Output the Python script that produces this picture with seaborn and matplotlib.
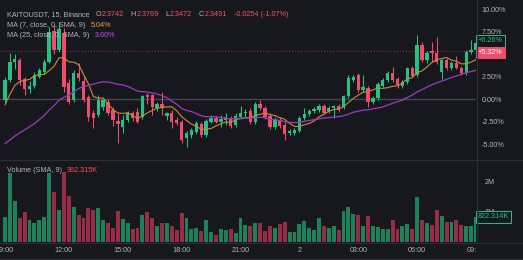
import numpy as np
import pandas as pd
import matplotlib
matplotlib.use("Agg")
import matplotlib.pyplot as plt
import matplotlib.transforms as mtransforms
from matplotlib.lines import Line2D
import seaborn as sns

# ---------------- data (percent change vs. first bar, 15-min bars) ----------------
time_labels = ["09:00", "12:00", "15:00", "18:00", "21:00", "2", "03:00", "06:00", "09:00"]
time_label_idx = [0, 12, 24, 36, 48, 60, 72, 84, 96]

# estimated closes before the visible window (only feed the moving averages)
history_close = [-6.0, -6.3, -6.8, -7.2, -7.0, -6.6, -7.4, -7.8, -7.5, -7.0, -6.8, -7.1,
                 -6.6, -6.2, -6.5, -6.0, -5.4, -5.0, -4.2, -2.5, -1.0, 0.2, 0.8, -0.1]

open_ = [-0.1, 2.1, 4.1, 4.3, 2.2, 1.1, 1.4, 2.5, 3.0, 4.1, 7.6, 5.5, 7.3, 1.8, -0.1, 2.9,
         2.0, 0.2, -1.5, -1.8, -0.9, -0.3, -1.2, -2.4, -3.1, -2.3, -1.6, -1.4, -2.0, 0.4, 0.4, -1.0,
         -0.5, -1.9, -1.5, -2.3, -2.5, -4.3, -4.0, -3.7, -2.8, -4.0, -2.5, -2.1, -2.5, -2.3, -2.2, -2.9,
         -2.0, -1.6, -1.3, -2.6, -0.6, -1.0, -1.9, -3.1, -2.3, -2.9, -3.8, -3.8, -3.5, -2.1, -1.7, -1.3,
         -1.2, -0.8, -1.3, -1.0, -0.8, -0.9, 0.3, 2.1, 2.7, 1.0, 1.2, -0.3, 0.1, 1.5, 2.1, 2.9,
         2.2, 1.4, 1.9, 3.4, 2.7, 6.0, 4.3, 5.3, 5.1, 3.0, 4.3, 3.4, 4.0, 3.4, 2.9, 5.2, 5.4]
high = [2.4, 5.1, 5.0, 4.6, 2.5, 2.0, 3.0, 3.5, 4.5, 8.0, 8.2, 8.6, 7.9, 2.2, 3.2, 4.0,
        2.4, 0.5, -1.2, 0.4, 0.0, 0.0, -0.9, -1.7, -1.8, -1.3, -1.3, -1.0, 0.5, 0.7, 0.6, -0.3,
        0.8, -1.4, -1.2, -2.0, -2.3, -3.5, -3.2, -2.4, -2.5, -2.2, -1.8, -1.9, -1.8, -1.5, -1.9, -1.6,
        -0.8, -1.1, -1.0, -0.3, -0.1, -0.8, -1.6, -2.0, -2.0, -2.6, -3.3, -3.2, -1.9, -1.0, -1.1, -0.9,
        -0.6, -0.5, -0.8, -0.7, -0.5, 0.5, 2.7, 2.7, 2.9, 2.7, 1.4, 0.3, 1.9, 2.3, 3.1, 3.6,
        2.4, 2.1, 3.6, 3.7, 7.1, 6.3, 5.3, 6.3, 6.9, 4.5, 4.6, 4.2, 4.8, 3.7, 5.5, 6.6, 7.0]
low = [-0.4, 1.9, 3.3, 1.6, 0.5, 0.7, 1.2, 2.3, 2.8, 4.0, 5.0, 5.2, 0.8, -0.5, -0.3, 2.0,
       -0.3, -2.4, -3.2, -2.0, -1.2, -1.8, -3.0, -4.9, -3.8, -2.6, -2.4, -2.7, -2.2, -0.5, -1.8, -1.3,
       -1.8, -2.3, -3.2, -2.9, -4.9, -5.3, -4.3, -3.9, -4.2, -4.2, -2.7, -2.7, -3.1, -2.9, -3.2, -3.1,
       -2.2, -2.0, -2.8, -2.8, -1.2, -2.2, -3.3, -3.3, -3.2, -4.5, -4.0, -4.0, -3.7, -2.3, -1.9, -1.5,
       -1.4, -1.7, -1.5, -2.1, -1.4, -1.1, 0.1, 1.9, 0.8, 0.8, -0.9, -0.5, -0.1, 1.3, 1.9, 1.9,
       1.2, 1.2, 1.7, 2.4, 2.5, 4.1, 4.0, 4.1, 3.9, 2.2, 3.2, 3.2, 3.3, 2.7, 2.7, 5.0, 5.2]
close = [2.1, 4.1, 4.4, 2.1, 1.1, 1.5, 2.7, 3.2, 4.1, 7.4, 5.4, 7.8, 1.3, -0.3, 2.9, 2.3,
         -0.1, -2.0, -2.1, -0.1, -0.1, -1.5, -2.3, -2.8, -2.3, -1.6, -2.1, -2.5, 0.3, 0.2, -0.9, -0.6,
         -1.0, -1.6, -2.5, -2.7, -4.5, -3.8, -3.4, -2.7, -4.0, -2.4, -2.1, -2.5, -2.2, -2.0, -3.0, -1.9,
         -1.5, -1.4, -2.6, -0.5, -1.0, -2.0, -3.1, -2.3, -3.0, -3.9, -3.6, -3.4, -2.1, -1.7, -1.3, -1.1,
         -0.8, -1.5, -1.0, -0.8, -1.2, 0.3, 2.3, 2.4, 1.0, 1.3, -0.3, 0.1, 1.7, 2.1, 2.9, 2.1,
         1.6, 1.9, 3.4, 2.6, 6.0, 4.3, 5.1, 5.1, 4.1, 4.3, 3.4, 4.0, 3.5, 2.9, 5.2, 5.4, 6.26]
volume_m = [0.83, 2.27, 1.34, 0.78, 0.99, 0.72, 0.63, 0.72, 0.83, 2.25, 1.65, 1.05, 2.31, 1.52, 1.16, 0.89,
            0.78, 1.13, 1.05, 1.10, 0.72, 0.63, 0.45, 1.02, 0.74, 0.63, 0.41, 0.47, 0.89, 0.99, 0.80, 0.52,
            0.63, 0.61, 0.52, 0.39, 0.94, 0.78, 0.41, 0.45, 0.37, 0.72, 0.34, 0.23, 0.41, 0.39, 0.41, 0.31,
            0.78, 0.56, 0.52, 0.61, 0.63, 0.37, 0.52, 0.45, 0.59, 0.64, 0.34, 0.32, 0.59, 0.70, 0.47, 0.39,
            0.78, 0.54, 0.47, 0.54, 0.39, 1.02, 1.16, 0.92, 0.89, 0.54, 0.85, 0.52, 0.50, 0.43, 0.41, 0.72,
            0.43, 0.52, 0.59, 0.43, 1.46, 0.72, 0.61, 0.56, 1.05, 0.85, 0.64, 0.64, 0.72, 0.56, 0.54, 0.52, 0.822]

price_ticks = [10.0, 7.5, 2.5, 0.0, -2.5, -5.0]
volume_ticks = [1.0, 2.0]
volume_tick_labels = ["1M", "2M"]
last_label = 6.26
price_line = 5.32
volume_last = 0.822314

header_ohlc = [("O", "2.3742"), ("H", "2.3769"), ("L", "2.3472"), ("C", "2.3491")]
header_change = "-0.0254 (-1.07%)"
ma7_value = "5.04%"
ma25_value = "3.60%"
vol_sma_value = "362.315K"

# ---------------- style ----------------
BG = "#17181d"
UP = "#22c283"
DOWN = "#ee4e6c"
VUP = "#1c825a"
VDOWN = "#962d46"
TXT = "#b2b5be"
LINE = "#2c2f37"
MA7_C = "#c98c3c"
MA25_C = "#9c3bc0"

sns.set_theme(style="dark")
plt.rcParams['font.family'] = ['Liberation Sans', 'DejaVu Sans']

W, H = 523, 260
fig = plt.figure(figsize=(W / 100, H / 100), dpi=100, facecolor=BG)

def fx(x):
    return x / W

def fy(y):
    return 1 - y / H

n = len(close)
df = pd.DataFrame({"idx": np.arange(n), "open": open_, "high": high, "low": low,
                   "close": close, "volume": volume_m})
df["dir"] = np.where(df["close"] >= df["open"], "up", "down")
all_close = pd.Series(history_close + close)
k = len(history_close)
df["ma7"] = all_close.rolling(7).mean().iloc[k:].to_numpy()
df["ma25"] = all_close.rolling(25).mean().iloc[k:].to_numpy()

PRICE_TOP, PRICE_BOT = 0, 159
VOL_TOP, VOL_BOT = 160, 242
PLOT_RIGHT = 476
XMIN, XMAX = -1.02, 96.0

ax_p = fig.add_axes([0, fy(PRICE_BOT), fx(PLOT_RIGHT), (PRICE_BOT - PRICE_TOP) / H])
ax_v = fig.add_axes([0, fy(VOL_BOT), fx(PLOT_RIGHT), (VOL_BOT - VOL_TOP) / H])
ax_t = fig.add_axes([0, 0, fx(PLOT_RIGHT), (H - VOL_BOT) / H])

for ax in (ax_p, ax_v, ax_t):
    ax.set_facecolor(BG)
    for s in ax.spines.values():
        s.set_visible(False)
    ax.grid(False)

# price pane
ax_p.axhline(0, color="#44474f", lw=1.0, zorder=1)
ax_p.axhline(price_line, color=DOWN, lw=0.6, ls=(0, (1, 2.5)), alpha=0.85, zorder=1)
cols = np.where(df["dir"] == "up", UP, DOWN)
ax_p.vlines(df["idx"], df["low"], df["high"], colors=cols, lw=0.75, zorder=3)
body = np.maximum((df["close"] - df["open"]).abs(), 0.12)
ax_p.bar(df["idx"], body, bottom=np.minimum(df["open"], df["close"]), width=0.68,
         color=cols, linewidth=0, zorder=4)
sns.lineplot(x=df["idx"], y=df["ma7"], ax=ax_p, color=MA7_C, lw=0.8, zorder=5)
sns.lineplot(x=df["idx"], y=df["ma25"], ax=ax_p, color=MA25_C, lw=0.9, zorder=5)
ax_p.set_xlim(XMIN, XMAX)
ax_p.set_ylim((99 - PRICE_BOT) / 9.0, 99 / 9.0)
ax_p.set_xlabel("")
ax_p.set_ylabel("")
ax_p.set_xticks([])
ax_p.yaxis.tick_right()
ax_p.set_yticks(price_ticks)
ax_p.set_yticklabels([f"{v:.2f}%" for v in price_ticks])
ax_p.tick_params(axis="y", length=0, pad=4, labelsize=5.2, labelcolor=TXT)

# volume pane
sns.barplot(data=df, x="idx", y="volume", hue="dir", palette={"up": VUP, "down": VDOWN},
            native_scale=True, dodge=False, width=0.8, saturation=1, legend=False,
            linewidth=0, ax=ax_v)
ax_v.set_xlim(XMIN, XMAX)
ax_v.set_ylim(0, (VOL_BOT - VOL_TOP) / 30.5)
ax_v.set_xlabel("")
ax_v.set_ylabel("")
ax_v.set_xticks([])
ax_v.yaxis.tick_right()
ax_v.set_yticks(volume_ticks)
ax_v.set_yticklabels(volume_tick_labels)
ax_v.tick_params(axis="y", length=0, pad=6, labelsize=5.2, labelcolor=TXT)

# time axis
ax_t.set_xlim(XMIN, XMAX)
ax_t.set_ylim(0, 1)
ax_t.set_yticks([])
ax_t.set_xticks([])
for i, lab in zip(time_label_idx, time_labels):
    ax_t.text(i, 0.52, lab, ha="center", va="center", fontsize=5.2, color=TXT, clip_on=True)

# price-scale labels
tp = mtransforms.blended_transform_factory(ax_p.transAxes, ax_p.transData)
ax_p.text(1.004, last_label + 0.2, f"+{last_label:.2f}%", transform=tp, ha="left", va="center",
          fontsize=5.2, color=UP, zorder=10, clip_on=False,
          bbox=dict(boxstyle="square,pad=0.3", fc=BG, ec=UP, lw=0.7))
ax_p.text(1.004, price_line - 0.15, f"+{price_line:.2f}%", transform=tp, ha="left", va="center",
          fontsize=5.2, color="white", zorder=10, clip_on=False,
          bbox=dict(boxstyle="square,pad=0.3", fc=DOWN, ec=DOWN, lw=0.7))
tv = mtransforms.blended_transform_factory(ax_v.transAxes, ax_v.transData)
ax_v.text(1.004, volume_last, f"{volume_last * 1000:.3f}K", transform=tv, ha="left", va="center",
          fontsize=5.2, color=UP, zorder=10, clip_on=False,
          bbox=dict(boxstyle="square,pad=0.3", fc=BG, ec=UP, lw=0.7))

# frame lines
for (x0, y0, x1, y1) in [(PLOT_RIGHT + 0.5, 0, PLOT_RIGHT + 0.5, VOL_BOT),
                         (0, PRICE_BOT + 0.5, W, PRICE_BOT + 0.5),
                         (0, VOL_BOT + 0.5, W, VOL_BOT + 0.5),
                         (0, H - 1.5, W, H - 1.5)]:
    fig.add_artist(Line2D([fx(x0), fx(x1)], [fy(y0), fy(y1)], transform=fig.transFigure,
                          color=LINE, lw=0.8, zorder=6))

# header texts
FS = 5.2
renderer = fig.canvas.get_renderer()

def header(x, y, parts):
    for s, c, gap in parts:
        t = fig.text(fx(x), fy(y), s, color=c, fontsize=FS, ha="left", va="center", zorder=20)
        x += t.get_window_extent(renderer=renderer).width + gap

RED_T = "#f7525f"
line1 = [("KAITOUSDT, 15, Binance", TXT, 6)]
for lbl, val in header_ohlc:
    line1 += [(lbl, TXT, 0.3), (val, RED_T, 7)]
line1 += [(header_change, RED_T, 0)]
header(7, 15, line1)
header(7, 25.5, [("MA (7, close, 0, SMA, 9)", TXT, 5), (ma7_value, "#f0a53a", 0)])
header(7, 35.5, [("MA (25, close, 0, SMA, 9)", TXT, 5), (ma25_value, "#d24fe4", 0)])
header(7, 171, [("Volume (SMA, 9)", TXT, 5), (vol_sma_value, RED_T, 0)])

fig.savefig("out.png", dpi=100, facecolor=BG)
